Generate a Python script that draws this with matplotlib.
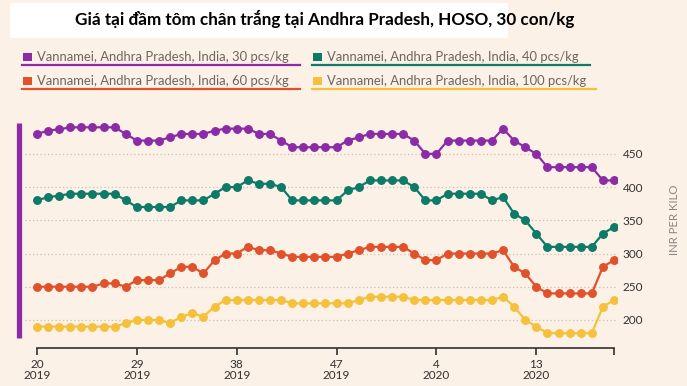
import matplotlib
matplotlib.use("Agg")
import matplotlib.pyplot as plt
from matplotlib.lines import Line2D
from matplotlib.patches import Rectangle

# Weekly farm-gate prices, week 20/2019 .. week 20/2020 (INR per kilo)
p30 = [480, 485, 487, 490, 490, 490, 490, 490, 480, 470, 470, 470, 475, 480, 480, 480, 485, 488,
       488, 488, 480, 480, 470, 460, 460, 460, 460, 460, 470, 475, 480, 480, 480, 480, 470, 450,
       450, 470, 470, 470, 470, 470, 488, 470, 460, 450, 430, 430, 430, 430, 430, 410, 410]
p40 = [380, 385, 387, 390, 390, 390, 390, 390, 380, 370, 370, 370, 370, 380, 380, 380, 390, 400,
       400, 410, 405, 405, 400, 380, 380, 380, 380, 380, 395, 400, 410, 410, 410, 410, 400, 380,
       380, 390, 390, 390, 390, 380, 385, 360, 350, 330, 310, 310, 310, 310, 310, 330, 340]
p60 = [250, 250, 250, 250, 250, 250, 255, 255, 250, 260, 260, 260, 270, 280, 280, 270, 290, 300,
       300, 310, 305, 305, 300, 295, 295, 295, 295, 295, 300, 305, 310, 310, 310, 310, 300, 290,
       290, 300, 300, 300, 300, 300, 305, 280, 270, 250, 240, 240, 240, 240, 240, 280, 290]
p100 = [190, 190, 190, 190, 190, 190, 190, 190, 195, 200, 200, 200, 195, 205, 210, 205, 220, 230,
        230, 230, 230, 230, 230, 225, 225, 225, 225, 225, 225, 230, 235, 235, 235, 235, 230, 230,
        230, 230, 230, 230, 230, 230, 235, 220, 200, 190, 180, 180, 180, 180, 180, 220, 230]

series_names = ["Vannamei, Andhra Pradesh, India, 30 pcs/kg",
                "Vannamei, Andhra Pradesh, India, 40 pcs/kg",
                "Vannamei, Andhra Pradesh, India, 60 pcs/kg",
                "Vannamei, Andhra Pradesh, India, 100 pcs/kg"]
colors = ["#8b2ca6", "#0e7a68", "#e0522b", "#f5c13c"]

tick_pos = [0, 9, 18, 27, 36, 45, 52]
tick_labels = ["20\n2019", "29\n2019", "38\n2019", "47\n2019", "4\n2020", "13\n2020", ""]
y_ticks = [200, 250, 300, 350, 400, 450]

bg = "#fcf1e7"
W, H = 687, 386
fig = plt.figure(figsize=(W / 100, H / 100), dpi=100, facecolor=bg)

# axes placed in pixel units
left, right, top, bottom = 25, 617, 120, 348
ax = fig.add_axes([left / W, 1 - bottom / H, (right - left) / W, (bottom - top) / H])
ax.set_facecolor(bg)

x = list(range(len(p30)))
for vals, c in zip([p30, p40, p60, p100], colors):
    ax.plot(x, vals, color=c, lw=1.6, marker="o", ms=5.4, zorder=3)

ax.set_xlim(-1.08, 52.27)
ax.set_ylim(157.8, 501)

ax.set_yticks(y_ticks)
ax.yaxis.tick_right()
ax.tick_params(axis="y", length=0, pad=4, labelsize=8.5, labelcolor="#33302e")
for lab in ax.get_yticklabels():
    lab.set_fontfamily("Lato")
ax.grid(axis="y", color="#ccc1b7", linestyle=(0, (1, 2)), lw=0.9)

ax.set_xticks(tick_pos)
ax.set_xticklabels(tick_labels, fontsize=8.5, color="#33302e", family="Lato", linespacing=1.0)
ax.tick_params(axis="x", length=5, width=1.2, color="#33302e", pad=3)

for s in ["left", "right", "top"]:
    ax.spines[s].set_visible(False)
ax.spines["bottom"].set_bounds(0, 52)
ax.spines["bottom"].set_color("#33302e")
ax.spines["bottom"].set_linewidth(1.2)

fig.text(674 / W, 1 - 220 / H, "INR PER KILO", rotation=90, ha="center", va="center",
         fontsize=8.2, color="#8a8580", family="Lato")

# purple accent bar on the left
fig.add_artist(Line2D([19 / W, 19 / W], [1 - 123 / H, 1 - 338 / H], color=colors[0], lw=3.8,
                      solid_capstyle="butt"))

# title on white box
fig.add_artist(Rectangle((10 / W, 1 - 38 / H), 498 / W, 35 / H, facecolor="white",
                         edgecolor="none", transform=fig.transFigure))
fig.text(325 / W, 1 - 19 / H, "Giá tại đầm tôm chân trắng tại Andhra Pradesh, HOSO, 30 con/kg",
         ha="center", va="center", fontsize=12.3, fontweight="bold", family="Lato", color="black")

# legend drawn as text with coloured squares and underlines
leg_pos = [(23, 57, 300), (313, 57, 590), (23, 81, 300), (313, 81, 596)]
for (lx, ly, ux), name, c in zip(leg_pos, series_names, colors):
    fig.add_artist(Rectangle((lx / W, 1 - (ly + 4) / H), 9 / W, 8 / H, facecolor=c,
                             edgecolor="none", transform=fig.transFigure))
    fig.text((lx + 14) / W, 1 - ly / H, name, ha="left", va="center", fontsize=9.4,
             color="#6b6560", family="Lato")
    fig.add_artist(Line2D([(lx - 1) / W, ux / W], [1 - (ly + 8) / H, 1 - (ly + 8) / H],
                          color=c, lw=1.6))

fig.savefig("out.png", dpi=100, facecolor=bg)
